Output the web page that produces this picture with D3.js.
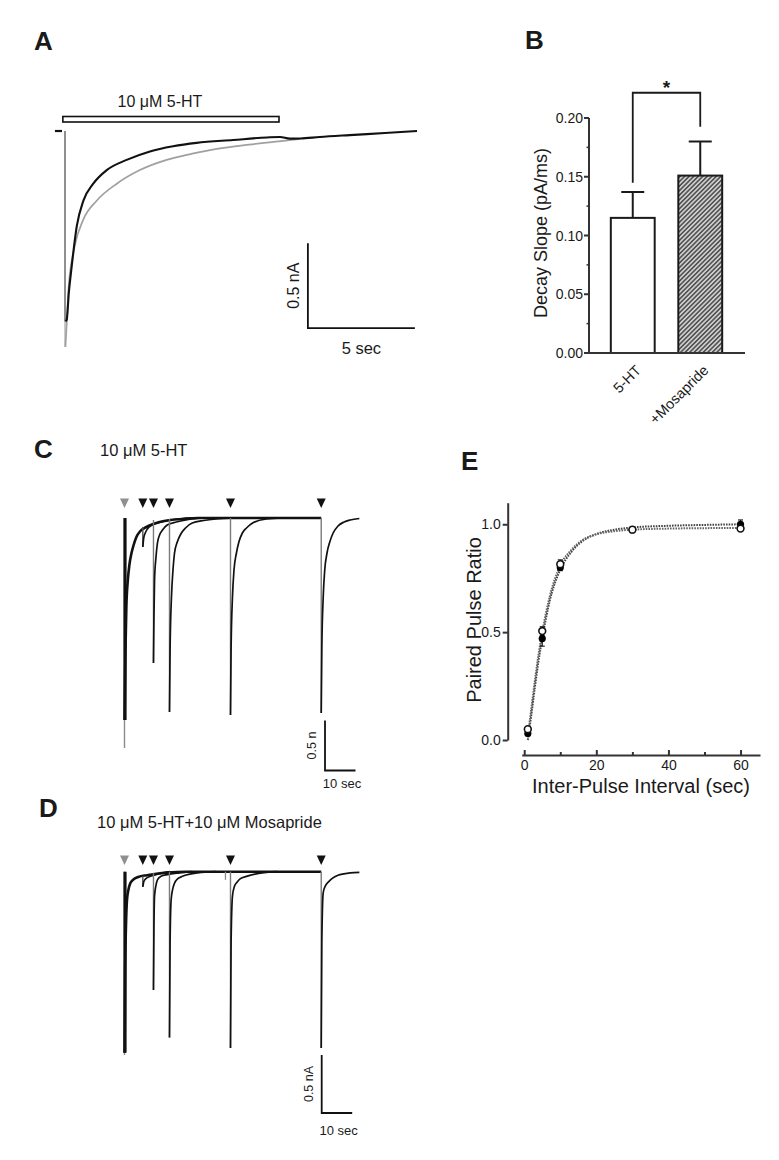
<!DOCTYPE html>
<html><head><meta charset="utf-8">
<script src="https://cdn.jsdelivr.net/npm/d3@7"></script>
<style>
body{margin:0;background:#fff}
svg{display:block}
text{font-family:"Liberation Sans",Arial,Helvetica,sans-serif;fill:#1a1a1a}
</style>
</head><body>
<svg id="fig" width="779" height="1160"></svg>
<script>
// ---------------- DATA ----------------
// Panel A: whole-cell current traces (time s, current nA)
const traceA_5HT = [[0,0],[0.02,-1.12],[0.08,-1.11],[0.18,-0.95],[0.31,-0.80],[0.55,-0.56],[0.86,-0.41],[1.32,-0.31],[1.95,-0.23],[2.88,-0.17],[3.97,-0.12],[5.05,-0.09],[6.15,-0.07],[7.85,-0.053],[9.44,-0.038],[10.05,-0.035],[10.5,-0.045],[11.0,-0.044],[11.9,-0.035],[13.3,-0.024],[14.95,-0.012],[16.45,0]];
const traceA_Mosapride = [[0,0],[0.02,-1.27],[0.09,-1.11],[0.17,-0.92],[0.45,-0.68],[0.86,-0.52],[1.48,-0.41],[2.42,-0.31],[3.5,-0.23],[4.75,-0.17],[5.9,-0.135],[7.1,-0.105],[8.6,-0.08],[10.2,-0.058],[11.0,-0.047]];
const drugBarA = [-0.1, 10.0];
const drugLabelA = "10 \u03bcM 5-HT";

// Panel B: decay slope bars
const barCategories = ["5-HT", "+Mosapride"];
const barMeans = [0.115, 0.151];
const barSEM = [0.022, 0.029];
const barTicks = [0, 0.05, 0.10, 0.15, 0.20];
const barMinorTicks = [0.025, 0.075, 0.125, 0.175];

// Panels C & D: paired-pulse traces (time s, current nA)
const pulseTimes = [0, 6.0, 9.5, 14.75, 34.75, 64.5];
const condC = [[0,0],[0.03,-2.02],[0.3,-1.35],[0.6,-0.9],[1.1,-0.62],[1.6,-0.47],[2.3,-0.35],[3.0,-0.27],[3.9,-0.19],[5.2,-0.13],[7.2,-0.09],[9,-0.065],[11.5,-0.04],[15,-0.02],[19,-0.01],[24,0],[64.5,0]];
const condPeakGrayC = -2.30;
const testStartC = [-0.09, -0.02, -0.01, 0, 0];
const testPeakC = [-0.29, -1.45, -1.94, -1.97, -1.95];
const recC = [
  [[6.0,-0.29],[6.3,-0.2],[6.8,-0.15],[7.5,-0.11],[9,-0.07],[12,-0.04],[16,-0.015],[22,0]],
  [[9.5,-1.45],[9.65,-1.0],[9.85,-0.62],[10.3,-0.4],[10.8,-0.25],[11.5,-0.17],[12.45,-0.12],[14,-0.07],[17,-0.04],[21,-0.015],[26,0]],
  [[14.75,-1.94],[14.95,-1.3],[15.4,-0.79],[15.9,-0.52],[16.4,-0.35],[17.3,-0.24],[18.65,-0.15],[20,-0.1],[22.2,-0.05],[26,-0.025],[30,-0.01],[36,0]],
  [[34.75,-1.97],[34.95,-1.3],[35.4,-0.79],[35.9,-0.52],[36.7,-0.35],[37.5,-0.24],[38.65,-0.15],[40,-0.1],[42,-0.05],[46.5,-0.01],[52,0]],
  [[64.5,-1.95],[64.7,-1.3],[65.15,-0.79],[65.65,-0.52],[66.4,-0.35],[67.3,-0.24],[68.4,-0.15],[70,-0.08],[72,-0.04],[74,-0.02],[77,-0.005]]
];
const condD = [[0,0],[0.03,-1.56],[0.2,-0.9],[0.5,-0.45],[0.8,-0.25],[1.25,-0.16],[1.9,-0.1],[2.8,-0.07],[4.5,-0.045],[7.4,-0.03],[10.5,-0.018],[14,-0.008],[20,0],[64.5,0]];
const condPeakGrayD = -1.58;
const testStartD = [-0.04, -0.01, 0, 0, 0];
const testPeakD = [-0.13, -1.02, -1.43, -1.52, -1.52];
const recD = [
  [[6.0,-0.13],[6.4,-0.08],[7,-0.06],[8.5,-0.04],[11,-0.02],[15,0]],
  [[9.5,-1.02],[9.65,-0.5],[9.85,-0.21],[10.3,-0.12],[10.8,-0.07],[12,-0.04],[14,-0.025],[18,-0.01],[22,0]],
  [[14.75,-1.43],[14.95,-0.6],[15.3,-0.24],[15.8,-0.15],[16.4,-0.1],[17.5,-0.06],[19,-0.04],[24,-0.01],[30,0]],
  [[34.75,-1.52],[34.95,-0.6],[35.4,-0.21],[36,-0.13],[36.9,-0.09],[38,-0.06],[40,-0.04],[44,-0.015],[50,0]],
  [[64.5,-1.52],[64.7,-0.6],[65.15,-0.18],[65.9,-0.12],[66.8,-0.09],[68,-0.06],[70,-0.03],[74,-0.01],[77,-0.005]]
];
const artifactD = [[33.1, 0, -0.07]];
const titleC = "10 \u03bcM 5-HT";
const titleD = "10 \u03bcM 5-HT+10 \u03bcM Mosapride";

// Panel E: paired pulse ratio
const intervals = [1, 5, 10, 30, 60];
const ppr5HT = [0.03, 0.47, 0.80, 0.975, 1.0];
const err5HT = [0.01, 0.035, 0.015, 0.01, 0.02];
const pprMosa = [0.05, 0.505, 0.815, 0.975, 0.98];
const errMosa = [0.01, 0.02, 0.02, 0.01, 0.01];
const fit5HT = [[1,0.0],[2,0.12],[3,0.25],[4,0.37],[5,0.47],[7,0.64],[10,0.79],[13,0.87],[16,0.92],[20,0.955],[25,0.975],[30,0.985],[40,0.993],[50,0.997],[60,1.0]];
const fitMosa = [[1,0.02],[2,0.15],[3,0.28],[4,0.40],[5,0.50],[7,0.66],[10,0.81],[13,0.88],[16,0.925],[20,0.953],[25,0.968],[30,0.975],[40,0.98],[50,0.982],[60,0.983]];
const eXTicks = [0, 20, 40, 60];
const eXMinor = [10, 30, 50];
const eYTicks = [0, 0.5, 1.0];

// ---------------- DRAW ----------------
const svg = d3.select('#fig');
svg.append('rect').attr('width',779).attr('height',1160).attr('fill','#fff');
const defs = svg.append('defs');
const pat = defs.append('pattern').attr('id','hatch').attr('patternUnits','userSpaceOnUse')
  .attr('width',3.2).attr('height',3.2).attr('patternTransform','rotate(45)');
pat.append('rect').attr('width',3.2).attr('height',3.2).attr('fill','#cfcfcf');
pat.append('line').attr('x1',0.8).attr('y1',0).attr('x2',0.8).attr('y2',3.2).attr('stroke','#4a4a4a').attr('stroke-width',1.5);

function letter(t,x,y){ svg.append('text').attr('x',x).attr('y',y).attr('font-size',26).attr('font-weight','bold').attr('fill','#000').text(t); }
letter('A',34,50); letter('B',525,49); letter('C',34,458); letter('D',39,817); letter('E',461,470);

// ---- Panel A ----
{
  const g = svg.append('g');
  const x = d3.scaleLinear().domain([0,17]).range([65, 65+17*21.4]);
  const y = d3.scaleLinear().domain([0,-1]).range([131, 301]);
  const line = d3.line().x(d=>x(d[0])).y(d=>y(d[1])).curve(d3.curveMonotoneX);
  g.append('rect').attr('x',x(drugBarA[0])).attr('y',116.5).attr('width',x(drugBarA[1])-x(drugBarA[0])).attr('height',5.5)
    .attr('fill','#fff').attr('stroke','#111').attr('stroke-width',1.6);
  g.append('text').attr('x',160).attr('y',107).attr('text-anchor','middle').attr('font-size',16).text(drugLabelA);
  g.append('line').attr('x1',x(-0.47)).attr('x2',x(-0.14)).attr('y1',y(0)).attr('y2',y(0)).attr('stroke','#111').attr('stroke-width',2.2);
  g.append('line').attr('x1',x(0)).attr('x2',x(0)).attr('y1',y(0)).attr('y2',y(traceA_Mosapride[1][1])).attr('stroke','#a0a0a0').attr('stroke-width',1.1);
  g.append('line').attr('x1',x(0)).attr('x2',x(0)).attr('y1',y(0)).attr('y2',y(traceA_5HT[1][1])).attr('stroke','#555').attr('stroke-width',1);
  g.append('path').attr('d',line(traceA_Mosapride.slice(1))).attr('fill','none').attr('stroke','#a0a0a0').attr('stroke-width',1.7);
  g.append('path').attr('d',line(traceA_5HT.slice(1))).attr('fill','none').attr('stroke','#111').attr('stroke-width',2.1);
  const t0 = 11.35, i0 = -1.16;
  g.append('path').attr('d',`M${x(t0)},${y(i0+0.5)} L${x(t0)},${y(i0)} L${x(t0+5)},${y(i0)}`).attr('fill','none').attr('stroke','#111').attr('stroke-width',1.8);
  g.append('text').attr('transform',`translate(${x(t0)-9},${y(i0+0.25)}) rotate(-90)`).attr('text-anchor','middle').attr('font-size',16).text('0.5 nA');
  g.append('text').attr('x',x(t0+2.5)).attr('y',y(i0)+26).attr('text-anchor','middle').attr('font-size',16.5).text('5 sec');
}

// ---- Panel B ----
{
  const g = svg.append('g');
  const y = d3.scaleLinear().domain([0,0.2]).range([353,118]);
  const x = d3.scaleBand().domain(barCategories).range([599,734]).paddingInner(0.35).paddingOuter(0.175);
  const axX = 589;
  barCategories.forEach((c,i)=>{
    g.append('rect').attr('x',x(c)).attr('y',y(barMeans[i])).attr('width',x.bandwidth()).attr('height',y(0)-y(barMeans[i]))
      .attr('fill', i===0 ? '#fff' : 'url(#hatch)').attr('stroke','#1a1a1a').attr('stroke-width',2);
    const cx = x(c)+x.bandwidth()/2;
    g.append('line').attr('x1',cx).attr('x2',cx).attr('y1',y(barMeans[i])).attr('y2',y(barMeans[i]+barSEM[i])).attr('stroke','#1a1a1a').attr('stroke-width',2);
    g.append('line').attr('x1',cx-11.5).attr('x2',cx+11.5).attr('y1',y(barMeans[i]+barSEM[i])).attr('y2',y(barMeans[i]+barSEM[i])).attr('stroke','#1a1a1a').attr('stroke-width',2);
    g.append('text').attr('transform',`translate(${cx+2},${y(0)+11}) rotate(-45)`).attr('text-anchor','end').attr('dy','0.7em').attr('font-size',14.5).attr('fill','#222').text(c);
  });
  g.append('line').attr('x1',axX).attr('x2',axX).attr('y1',y(0.2)).attr('y2',y(0)).attr('stroke','#333').attr('stroke-width',2);
  g.append('line').attr('x1',axX).attr('x2',745).attr('y1',y(0)).attr('y2',y(0)).attr('stroke','#333').attr('stroke-width',2);
  barTicks.forEach(v=>{
    g.append('line').attr('x1',axX-5).attr('x2',axX).attr('y1',y(v)).attr('y2',y(v)).attr('stroke','#333').attr('stroke-width',2);
    g.append('text').attr('x',axX-6).attr('y',y(v)).attr('dy','0.36em').attr('text-anchor','end').attr('font-size',14).attr('fill','#333').text(v.toFixed(2));
  });
  barMinorTicks.forEach(v=>{
    g.append('line').attr('x1',axX-2.5).attr('x2',axX).attr('y1',y(v)).attr('y2',y(v)).attr('stroke','#333').attr('stroke-width',1.5);
  });
  g.append('text').attr('transform',`translate(547,233) rotate(-90)`).attr('text-anchor','middle').attr('font-size',18).text('Decay Slope (pA/ms)');
  const c0 = x(barCategories[0])+x.bandwidth()/2, c1 = x(barCategories[1])+x.bandwidth()/2;
  g.append('path').attr('d',`M${c0},${y(0.145)} L${c0},${y(0.2215)} L${c1},${y(0.2215)} L${c1},${y(0.1926)}`).attr('fill','none').attr('stroke','#1a1a1a').attr('stroke-width',1.8);
  g.append('text').attr('x',(c0+c1)/2).attr('y',y(0.2215)+1).attr('text-anchor','middle').attr('font-size',19).attr('font-weight','bold').text('*');
}

// ---- Panels C & D ----
function tracePanel(cfg){
  const g = svg.append('g');
  const x = d3.scaleLinear().domain([0,80]).range([124.5, 124.5+80*3.05]);
  const y = d3.scaleLinear().domain([0,-1]).range([cfg.base, cfg.base+cfg.pxPerNA]);
  const line = d3.line().x(d=>x(d[0])).y(d=>y(d[1])).curve(d3.curveMonotoneX);
  g.append('text').attr('x',cfg.titleX).attr('y',cfg.titleY).attr('font-size',16.5).text(cfg.title);
  pulseTimes.forEach((t,i)=>{
    const cx = x(t), top = cfg.triTop;
    g.append('path').attr('d',`M${cx-4.5},${top} L${cx+4.5},${top} L${cx},${top+9.5} Z`).attr('fill', i===0?'#8f8f8f':'#111');
  });
  g.append('line').attr('x1',x(0)).attr('x2',x(0)).attr('y1',y(0)).attr('y2',y(cfg.condGray)).attr('stroke','#8a8a8a').attr('stroke-width',1.4);
  g.append('line').attr('x1',x(0)+0.5).attr('x2',x(0)+0.5).attr('y1',y(0)).attr('y2',y(cfg.cond[1][1])).attr('stroke','#111').attr('stroke-width',3.2);
  g.append('path').attr('d',line(cfg.cond.slice(1))).attr('fill','none').attr('stroke','#111').attr('stroke-width',2.6);
  (cfg.artifacts||[]).forEach(a=>{
    g.append('line').attr('x1',x(a[0])).attr('x2',x(a[0])).attr('y1',y(a[1])).attr('y2',y(a[2])).attr('stroke','#8a8a8a').attr('stroke-width',1.3);
  });
  pulseTimes.slice(1).forEach((t,i)=>{
    g.append('line').attr('x1',x(t)).attr('x2',x(t)).attr('y1',y(cfg.start[i])).attr('y2',y(cfg.peak[i])).attr('stroke',i===0?'#555':'#7a7a7a').attr('stroke-width',1.4);
    g.append('path').attr('d',line(cfg.rec[i])).attr('fill','none').attr('stroke','#111').attr('stroke-width',1.7);
  });
  const sx = cfg.sbX, sy = cfg.sbY;
  g.append('path').attr('d',`M${sx},${sy-cfg.pxPerNA*0.5} L${sx},${sy} L${sx+10*3.05},${sy}`).attr('fill','none').attr('stroke','#111').attr('stroke-width',1.8);
  g.append('text').attr('transform',`translate(${sx-9},${sy-cfg.pxPerNA*0.25}) rotate(-90)`).attr('text-anchor','middle').attr('font-size',12.5).text(cfg.sbLabel);
  g.append('text').attr('x',sx+17).attr('y',sy+cfg.sbTextDy).attr('text-anchor','middle').attr('font-size',13).text('10 sec');
}
tracePanel({title:titleC, titleX:100, titleY:456, base:518, pxPerNA:100, triTop:498.5, cond:condC, condGray:condPeakGrayC,
  start:testStartC, peak:testPeakC, rec:recC, sbX:325, sbY:770.5, sbLabel:'0.5 n', sbTextDy:17});
tracePanel({title:titleD, titleX:97, titleY:828, base:871.7, pxPerNA:116, triTop:855.5, cond:condD, condGray:condPeakGrayD,
  start:testStartD, peak:testPeakD, rec:recD, artifacts:artifactD, sbX:321.7, sbY:1113, sbLabel:'0.5 nA', sbTextDy:22});

// ---- Panel E ----
{
  const g = svg.append('g');
  const x = d3.scaleLinear().domain([-0.7,65.4]).range([521.7,760]);
  const y = d3.scaleLinear().domain([0,1.1]).range([740,502.7]);
  g.append('g').attr('transform','translate(507.7,0)')
    .call(d3.axisLeft(y).tickValues(eYTicks).tickFormat(d3.format('.1f')).tickSizeOuter(0).tickSizeInner(5).tickPadding(2));
  g.append('g').attr('transform','translate(0,755)')
    .call(d3.axisBottom(x).tickValues(eXTicks).tickFormat(d3.format('d')).tickSizeOuter(0).tickSizeInner(-5).tickPadding(5));
  const minor = g.append('g').attr('transform','translate(0,755)')
    .call(d3.axisBottom(x).tickValues(eXMinor).tickFormat('').tickSizeOuter(0).tickSizeInner(-3));
  minor.select('.domain').remove();
  minor.selectAll('text').remove();
  g.selectAll('.domain').attr('stroke','#333').attr('stroke-width',2);
  g.selectAll('.tick line').attr('stroke','#333').attr('stroke-width',2);
  g.selectAll('.tick text').attr('font-size',14).attr('fill','#333').attr('font-family','"Liberation Sans",Arial,sans-serif');
  g.append('text').attr('transform','translate(481,620) rotate(-90)').attr('text-anchor','middle').attr('font-size',20).text('Paired Pulse Ratio');
  g.append('text').attr('x',641).attr('y',793).attr('text-anchor','middle').attr('font-size',20).text('Inter-Pulse Interval (sec)');
  const line = d3.line().x(d=>x(d[0])).y(d=>y(d[1])).curve(d3.curveMonotoneX);
  [fit5HT, fitMosa].forEach((f,i)=>{
    g.append('path').attr('d',line(f)).attr('fill','none').attr('stroke',i===0?'#444':'#666').attr('stroke-width',2).attr('stroke-dasharray','1.6,1.1');
  });
  function errs(vals, errs){
    intervals.forEach((t,i)=>{
      const cx = x(t);
      g.append('line').attr('x1',cx).attr('x2',cx).attr('y1',y(vals[i]-errs[i])).attr('y2',y(vals[i]+errs[i])).attr('stroke','#222').attr('stroke-width',1.2);
      [vals[i]-errs[i], vals[i]+errs[i]].forEach(v=>g.append('line').attr('x1',cx-2.5).attr('x2',cx+2.5).attr('y1',y(v)).attr('y2',y(v)).attr('stroke','#222').attr('stroke-width',1.2));
    });
  }
  errs(ppr5HT, err5HT); errs(pprMosa, errMosa);
  intervals.forEach((t,i)=>{
    g.append('circle').attr('cx',x(t)).attr('cy',y(ppr5HT[i])).attr('r',3.6).attr('fill','#000');
  });
  intervals.forEach((t,i)=>{
    g.append('circle').attr('cx',x(t)).attr('cy',y(pprMosa[i])).attr('r',3.4).attr('fill','#fff').attr('stroke','#111').attr('stroke-width',1.6);
  });
}
</script>
</body></html>
